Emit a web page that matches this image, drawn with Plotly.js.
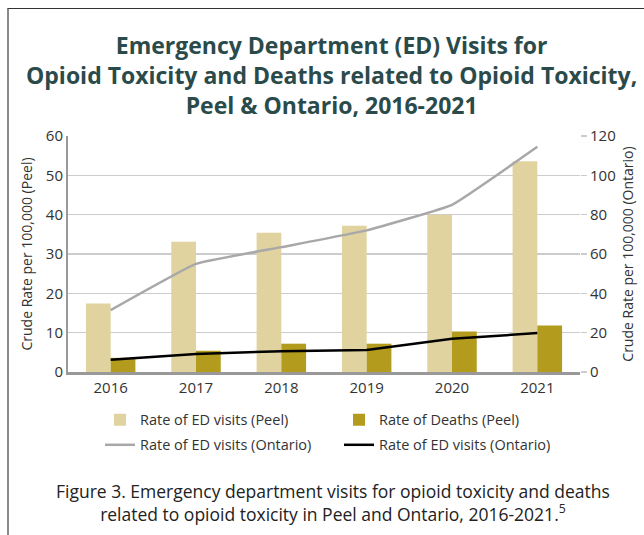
<!DOCTYPE html>
<html>
<head>
<meta charset="utf-8">
<script src="https://cdn.plot.ly/plotly-3.0.1.min.js"></script>
<style>
  html, body { margin: 0; padding: 0; background: #fff; }
  #wrap { position: relative; width: 644px; height: 535px; }
  #chart { width: 644px; height: 535px; }
  #frame { position: absolute; left: 7px; top: 8px; right: 0; bottom: 0;
           border-left: 2px solid #8a8a8a; border-top: 1px solid #333; pointer-events: none; }
</style>
</head>
<body>
<div id="wrap">
  <div id="chart"></div>
  <div id="frame"></div>
</div>
<script>
const years = ['2016', '2017', '2018', '2019', '2020', '2021'];
const edPeel = [17.4, 33.1, 35.4, 37.2, 40.0, 53.6];
const deathsPeel = [3.6, 5.4, 7.2, 7.2, 10.3, 11.8];
const edOntario = [31.5, 55.0, 63.5, 72.0, 85.0, 114.5];
const deathsOntario = [6.2, 9.2, 10.6, 11.2, 16.9, 19.8];

const seriesNames = ['Rate of ED visits (Peel)', 'Rate of Deaths (Peel)',
                     'Rate of ED visits (Ontario)', 'Rate of ED visits (Ontario)'];

const titleText = 'Emergency Department (ED) Visits for<br>Opioid Toxicity and Deaths related to Opioid Toxicity,<br>Peel &amp; Ontario, 2016-2021';
const captionText = 'Figure 3. Emergency department visits for opioid toxicity and deaths<br>related to opioid toxicity in Peel and Ontario, 2016-2021.<sup>5</sup>';

const font = '"Open Sans", Lato, sans-serif';

const traces = [
  { type: 'bar', x: years, y: edPeel, name: seriesNames[0],
    marker: { color: '#E0D3A0' }, yaxis: 'y', legend: 'legend' },
  { type: 'bar', x: years, y: deathsPeel, name: seriesNames[1],
    marker: { color: '#B39B1E' }, yaxis: 'y', legend: 'legend' },
  { type: 'scatter', mode: 'lines', x: years, y: edOntario, name: seriesNames[2],
    line: { color: '#A8A8A8', width: 2.5, shape: 'spline', smoothing: 0.3 }, yaxis: 'y2', legend: 'legend2' },
  { type: 'scatter', mode: 'lines', x: years, y: deathsOntario, name: seriesNames[3],
    line: { color: '#000000', width: 2.5 }, yaxis: 'y2', legend: 'legend2' }
];

const legendCommon = {
  orientation: 'h', x: 0.0625, xanchor: 'left', yanchor: 'top',
  entrywidth: 194, entrywidthmode: 'pixels',
  font: { size: 14.5, color: '#333', family: font },
  traceorder: 'normal', bgcolor: 'rgba(0,0,0,0)'
};

const layout = {
  width: 644, height: 535,
  margin: { l: 68, r: 64, t: 136, b: 163 },
  paper_bgcolor: '#fff', plot_bgcolor: '#fff',
  font: { family: font, color: '#333', size: 15 },
  barmode: 'group', bargap: 0.42, bargroupgap: 0,
  showlegend: true,
  legend: Object.assign({}, legendCommon, { y: -0.135 }),
  legend2: Object.assign({}, legendCommon, { y: -0.241 }),
  xaxis: {
    type: 'category', showgrid: false, ticks: '',
    showline: true, linecolor: '#999', linewidth: 3,
    tickfont: { size: 15, color: '#333' }
  },
  yaxis: {
    range: [0, 60], dtick: 10, showgrid: true, gridcolor: '#CCCCCC', gridwidth: 1.5,
    showline: true, linecolor: '#999', linewidth: 2, zeroline: false,
    ticks: '', tickfont: { size: 15, color: '#333' },
    title: { text: 'Crude Rate per 100,000 (Peel)', font: { size: 14, color: '#333' }, standoff: 10 }
  },
  yaxis2: {
    overlaying: 'y', side: 'right', range: [0, 120], dtick: 20,
    showgrid: false, zeroline: false, showline: false,
    ticks: 'outside', ticklen: 6, tickcolor: '#CCCCCC', tickwidth: 1.5,
    tickfont: { size: 15, color: '#333' },
    title: { text: 'Crude Rate per 100,000 (Ontario)', font: { size: 14, color: '#333' }, standoff: 8 }
  },
  annotations: [
    { xref: 'paper', yref: 'paper', x: 0.514, y: 1.258, xanchor: 'center', yanchor: 'middle',
      text: '<b>' + titleText + '</b>', showarrow: false,
      font: { family: font, size: 23, color: '#2B4B4B' } },
    { xref: 'paper', yref: 'paper', x: 0.518, y: -0.552, xanchor: 'center', yanchor: 'middle',
      text: captionText, showarrow: false,
      font: { family: font, size: 17.5, color: '#222' } }
  ]
};

Plotly.newPlot('chart', traces, layout, { displayModeBar: false, staticPlot: true });
</script>
</body>
</html>
